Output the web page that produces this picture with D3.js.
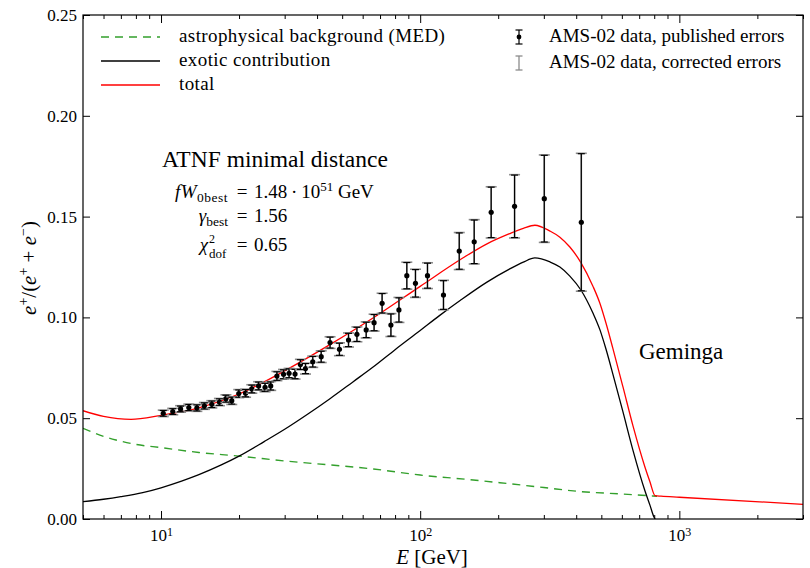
<!DOCTYPE html>
<html>
<head>
<meta charset="utf-8">
<script src="https://cdn.jsdelivr.net/npm/d3@7"></script>
<style>
  body { margin: 0; background: #fff; }
  svg { display: block; font-family: "Liberation Serif", serif; }
</style>
</head>
<body>
<svg id="chart" width="810" height="568"></svg>
<script>
// values (E in GeV, positron fraction)
const bgE   = [5, 6, 6.7, 8, 10, 14, 20, 30, 45, 66, 100, 150, 203, 300, 415, 600, 820];
const bgVal = [0.0450, 0.0410, 0.0392, 0.0370, 0.0354, 0.0330, 0.0312, 0.0288, 0.0268, 0.0248,
               0.0218, 0.0197, 0.0180, 0.0156, 0.0136, 0.0124, 0.0113];

const exoE   = [5, 6, 7, 8.5, 10, 12, 14, 17, 20, 25, 30, 37, 45, 55, 66, 80, 100, 119, 143, 181,
                220, 250, 277, 317, 346, 378, 417, 464, 494, 521, 554, 606, 662, 737, 770, 798, 806];
const exoVal = [0.0086, 0.0098, 0.0111, 0.0131, 0.0155, 0.0188, 0.0220, 0.0267, 0.0312, 0.0384,
                0.0445, 0.0522, 0.0598, 0.0680, 0.0755, 0.0840, 0.0935, 0.1010, 0.1085, 0.1175,
                0.1238, 0.1274, 0.1295, 0.1275, 0.1250, 0.1205, 0.1136, 0.1022, 0.0938, 0.0843,
                0.0719, 0.0531, 0.0342, 0.0139, 0.0069, 0.0010, 0.0000];

const totE   = [5, 6, 7.66, 10, 14, 20, 30, 45, 66, 100, 143, 181, 220, 250, 277, 317, 346, 378,
                417, 464, 494, 521, 554, 606, 662, 737, 770, 806, 850, 1000, 3000];
const totVal = [0.0537, 0.0509, 0.0494, 0.0514, 0.0551, 0.0620, 0.0735, 0.0866, 0.0998, 0.1154,
                0.1287, 0.1365, 0.1414, 0.1442, 0.1457, 0.1428, 0.1398, 0.1349, 0.1272, 0.1155,
                0.1069, 0.0972, 0.0846, 0.0655, 0.0463, 0.0257, 0.0185, 0.0116, 0.0113, 0.0108,
                0.0073];

const amsE   = [10.2, 11.1, 11.9, 12.8, 13.75, 14.7, 15.7, 16.8, 17.8, 18.75, 19.95, 21.2, 22.4,
                23.8, 25.2, 26.5, 28.0, 29.7, 31.2, 32.9, 34.5, 36.1, 38.5, 41.5, 44.9, 48.8,
                52.9, 57.0, 61.9, 66.4, 71.3, 77.1, 82.8, 88.8, 95.9, 106.7, 123, 141.5, 161.6,
                187.9, 231.3, 301.2, 418.5];
const amsVal = [0.0524, 0.0533, 0.0546, 0.0553, 0.0551, 0.0561, 0.0569, 0.0580, 0.0597, 0.0587,
                0.0622, 0.0624, 0.0645, 0.0660, 0.0653, 0.0660, 0.0709, 0.0718, 0.0723, 0.0719,
                0.0766, 0.0746, 0.0780, 0.0805, 0.0875, 0.0842, 0.0888, 0.0916, 0.0938, 0.0974,
                0.1070, 0.0962, 0.1037, 0.1207, 0.1169, 0.1207, 0.1111, 0.1329, 0.1375, 0.1521,
                0.1551, 0.1589, 0.1472];
const amsErrPub  = [0.0014, 0.0014, 0.0014, 0.0015, 0.0015, 0.0015, 0.0016, 0.0016, 0.0017, 0.0017,
                    0.0018, 0.0018, 0.0019, 0.0019, 0.0020, 0.0020, 0.0021, 0.0022, 0.0022, 0.0023,
                    0.0024, 0.0025, 0.0026, 0.0027, 0.0027, 0.0030, 0.0033, 0.0035, 0.0038, 0.0040,
                    0.0048, 0.0055, 0.0060, 0.0065, 0.0068, 0.0062, 0.0071, 0.0090, 0.0108, 0.0125,
                    0.0155, 0.0215, 0.0340];
const amsErrCorr = [0.0016, 0.0016, 0.0016, 0.0017, 0.0017, 0.0017, 0.0018, 0.0018, 0.0019, 0.0019,
                    0.0020, 0.0020, 0.0021, 0.0021, 0.0022, 0.0022, 0.0023, 0.0024, 0.0024, 0.0025,
                    0.0026, 0.0027, 0.0028, 0.0029, 0.0029, 0.0032, 0.0035, 0.0037, 0.0040, 0.0042,
                    0.0050, 0.0057, 0.0062, 0.0067, 0.0070, 0.0064, 0.0073, 0.0092, 0.0110, 0.0127,
                    0.0157, 0.0217, 0.0342];

const yTicks = [0, 0.05, 0.10, 0.15, 0.20, 0.25];
const xMajor = [10, 100, 1000];

const legendLines = [
  {label: 'astrophysical background (MED)', color: '#33a02c', dash: '8,6'},
  {label: 'exotic contribution', color: '#000', dash: null},
  {label: 'total', color: '#ff0000', dash: null}
];
const legendData = ['AMS-02 data, published errors', 'AMS-02 data, corrected errors'];

// ---- layout ----
const svg = d3.select('#chart');
const pl = 83, pr = 803, pt = 15, pb = 519;

const x = d3.scaleLog().domain([5, 3000]).range([pl, pr]);
const y = d3.scaleLinear().domain([0, 0.25]).range([pb, pt]);

svg.append('defs').append('clipPath').attr('id', 'plotclip')
  .append('rect').attr('x', pl).attr('y', pt)
  .attr('width', pr - pl).attr('height', pb - pt);

const zip = (a, b) => a.map((v, i) => [v, b[i]]);
const line = d3.line().x(d => x(d[0])).y(d => y(d[1])).curve(d3.curveMonotoneX);

const plot = svg.append('g').attr('clip-path', 'url(#plotclip)');

plot.append('path').datum(zip(bgE, bgVal))
  .attr('d', line).attr('fill', 'none')
  .attr('stroke', '#33a02c').attr('stroke-width', 1.4).attr('stroke-dasharray', '8,6');

plot.append('path').datum(zip(exoE, exoVal))
  .attr('d', line).attr('fill', 'none')
  .attr('stroke', '#000').attr('stroke-width', 1.3);

plot.append('path').datum(zip(totE, totVal))
  .attr('d', line).attr('fill', 'none')
  .attr('stroke', '#ff0000').attr('stroke-width', 1.3);

// error bars: corrected (grey) under published (black)
const pts = amsE.map((e, i) => ({e: e, v: amsVal[i], ep: amsErrPub[i], ec: amsErrCorr[i]}));

function errorBar(g, lo, hi, color, capW, sw) {
  g.append('line').attr('x1', 0).attr('x2', 0).attr('y1', lo).attr('y2', hi)
    .attr('stroke', color).attr('stroke-width', sw);
  g.append('line').attr('x1', -capW / 2).attr('x2', capW / 2).attr('y1', lo).attr('y2', lo)
    .attr('stroke', color).attr('stroke-width', sw);
  g.append('line').attr('x1', -capW / 2).attr('x2', capW / 2).attr('y1', hi).attr('y2', hi)
    .attr('stroke', color).attr('stroke-width', sw);
}

const bars = plot.selectAll('g.pt').data(pts).enter().append('g')
  .attr('class', 'pt')
  .attr('transform', d => `translate(${x(d.e)},0)`);

bars.each(function(d) {
  const g = d3.select(this);
  errorBar(g, y(d.v - d.ec), y(d.v + d.ec), '#8c8c8c', 11, 1.6);
  errorBar(g, y(d.v - d.ep), y(d.v + d.ep), '#000', 7, 1.2);
  g.append('circle').attr('cx', 0).attr('cy', y(d.v)).attr('r', 2.6).attr('fill', '#000');
});

// ---- axes ----
const minor = x.ticks().filter(v => !xMajor.includes(v));

function styleAxis(g) {
  g.select('.domain').remove();
  g.selectAll('.tick line').attr('stroke', '#000');
  g.attr('font-family', '"Liberation Serif", serif').attr('font-size', 17);
  g.selectAll('.tick text').attr('fill', '#000');
}

svg.append('g').attr('transform', `translate(0,${pb})`)
  .call(d3.axisBottom(x).tickValues(minor).tickSize(-4).tickFormat(''))
  .call(styleAxis);
svg.append('g').attr('transform', `translate(0,${pt})`)
  .call(d3.axisTop(x).tickValues(minor).tickSize(-4).tickFormat(''))
  .call(styleAxis);
svg.append('g').attr('transform', `translate(0,${pt})`)
  .call(d3.axisTop(x).tickValues(xMajor).tickSize(-8).tickFormat(''))
  .call(styleAxis);

const gxMajor = svg.append('g').attr('transform', `translate(0,${pb})`)
  .call(d3.axisBottom(x).tickValues(xMajor).tickSize(-8).tickPadding(10).tickFormat(''))
  .call(styleAxis);
gxMajor.selectAll('.tick text').each(function(d) {
  const t = d3.select(this);
  t.append('tspan').text('10');
  t.append('tspan').attr('dy', '-0.45em').attr('font-size', 12).text(Math.round(Math.log10(d)));
});

svg.append('g').attr('transform', `translate(${pl},0)`)
  .call(d3.axisLeft(y).tickValues(yTicks).tickSize(-7).tickPadding(6).tickFormat(d3.format('.2f')))
  .call(styleAxis);
svg.append('g').attr('transform', `translate(${pr},0)`)
  .call(d3.axisRight(y).tickValues(yTicks).tickSize(-7).tickFormat(''))
  .call(styleAxis);

svg.append('rect').attr('x', pl).attr('y', pt)
  .attr('width', pr - pl).attr('height', pb - pt)
  .attr('fill', 'none').attr('stroke', '#000').attr('stroke-width', 1.2);

// axis labels
const xl = svg.append('text').attr('x', 432).attr('y', 564)
  .attr('text-anchor', 'middle').attr('font-size', 21);
xl.append('tspan').attr('font-style', 'italic').text('E');
xl.append('tspan').text(' [GeV]');

const yl = svg.append('text').attr('transform', 'translate(36,268) rotate(-90)')
  .attr('text-anchor', 'middle').attr('font-size', 21);
yl.append('tspan').attr('font-style', 'italic').text('e');
yl.append('tspan').attr('dy', -8).attr('font-size', 14).text('+');
yl.append('tspan').attr('dy', 8).text('/(');
yl.append('tspan').attr('font-style', 'italic').text('e');
yl.append('tspan').attr('dy', -8).attr('font-size', 14).text('+');
yl.append('tspan').attr('dy', 8).text(' + ');
yl.append('tspan').attr('font-style', 'italic').text('e');
yl.append('tspan').attr('dy', -8).attr('font-size', 14).text('\u2212');
yl.append('tspan').attr('dy', 8).text(')');

// ---- legends ----
const leg = svg.append('g').attr('font-size', 19).attr('letter-spacing', 0.4);
legendLines.forEach((d, i) => {
  const ly = 37 + i * 24;
  leg.append('line').attr('x1', 101).attr('x2', 160).attr('y1', ly).attr('y2', ly)
    .attr('stroke', d.color).attr('stroke-width', 1.4)
    .attr('stroke-dasharray', d.dash);
  leg.append('text').attr('x', 179).attr('y', ly + 5).text(d.label);
});

const legR = svg.append('g').attr('font-size', 19);
legendData.forEach((label, i) => {
  const ly = 37 + i * 26;
  const g = legR.append('g').attr('transform', `translate(519,0)`);
  if (i === 0) {
    errorBar(g, ly - 7, ly + 7, '#000', 7, 1.2);
    g.append('circle').attr('cx', 0).attr('cy', ly).attr('r', 2.4).attr('fill', '#000');
  } else {
    errorBar(g, ly - 7, ly + 7, '#8c8c8c', 7, 1.3);
  }
  legR.append('text').attr('x', 549).attr('y', ly + 5).text(label);
});

// ---- annotations ----
svg.append('text').attr('x', 162).attr('y', 167).attr('font-size', 23.5)
  .text('ATNF minimal distance');

const stats = svg.append('g').attr('font-size', 19);
const s1 = stats.append('text').attr('x', 228).attr('y', 198).attr('text-anchor', 'end')
  .attr('letter-spacing', 0.5);
s1.append('tspan').attr('font-style', 'italic').text('fW');
s1.append('tspan').attr('dy', 4).attr('font-size', 13.5).text('0best');
stats.append('text').attr('x', 242).attr('y', 198).attr('text-anchor', 'middle').text('=');
const v1 = stats.append('text').attr('x', 254).attr('y', 198);
v1.append('tspan').text('1.48\u2009\u00b7\u200910');
v1.append('tspan').attr('dy', -7).attr('font-size', 13).text('51');
v1.append('tspan').attr('dy', 7).text(' GeV');

const s2 = stats.append('text').attr('x', 228).attr('y', 222).attr('text-anchor', 'end');
s2.append('tspan').attr('font-style', 'italic').text('\u03b3');
s2.append('tspan').attr('dy', 4).attr('font-size', 13.5).text('best');
stats.append('text').attr('x', 242).attr('y', 222).attr('text-anchor', 'middle').text('=');
stats.append('text').attr('x', 254).attr('y', 222).text('1.56');

// chi^2_dof: symbol, then stacked super- and subscript as separate texts
stats.append('text').attr('x', 208).attr('y', 251).attr('text-anchor', 'end')
  .attr('font-style', 'italic').text('\u03c7');
stats.append('text').attr('x', 209).attr('y', 243).attr('font-size', 12).text('2');
stats.append('text').attr('x', 209).attr('y', 258).attr('font-size', 13).text('dof');
stats.append('text').attr('x', 242).attr('y', 251).attr('text-anchor', 'middle').text('=');
stats.append('text').attr('x', 254).attr('y', 251).text('0.65');

svg.append('text').attr('x', 639).attr('y', 359).attr('font-size', 23).text('Geminga');
</script>
</body>
</html>
